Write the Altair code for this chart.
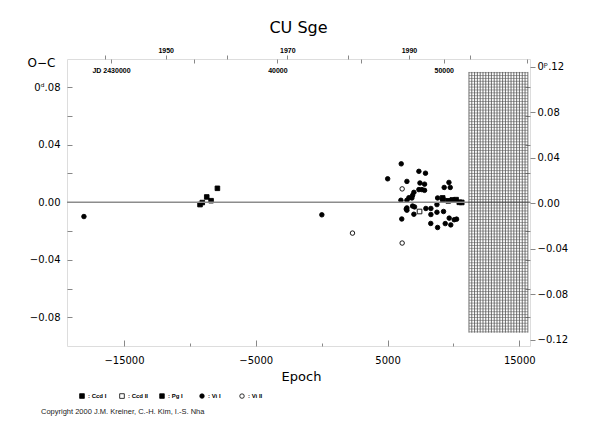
import altair as alt
import pandas as pd
import numpy as np

# ---------------- data ----------------
chart_title = "CU Sge"
copyright_text = "Copyright 2000 J.M. Kreiner, C.-H. Kim, I.-S. Nha"
types = ["Ccd I", "Ccd II", "Pg I", "Vi I", "Vi II"]

ccd1_epoch = [9180, 9210, 9610, 9920, 10200, 10450, 10630]
ccd1_oc = [0.0030, 0.0015, 0.0010, 0.0016, 0.0018, 0.0000, -0.0001]
ccd2_epoch = [7430]
ccd2_oc = [-0.0064]
pg1_epoch = [-9230, -9060, -8720, -8390, -7910]
pg1_oc = [-0.0016, -0.0002, 0.0037, 0.0011, 0.0097]
vi1_epoch = [-18040, 15, 5010, 6040, 6470, 7380, 7880, 7460, 7810, 7000, 7380,
             7610, 7810, 6900, 6620, 6850, 6015, 6470, 9300, 9760, 9660, 8800,
             6470, 6470, 6420, 6900, 7050, 7000, 7910, 8290, 8750, 8290, 8750,
             9250, 8280, 8800, 9380, 9800, 9680, 10060, 10240, 6080]
vi1_oc = [-0.0099, -0.0087, 0.0163, 0.0267, 0.0145, 0.0215, 0.0202, 0.0134,
          0.0126, 0.0069, 0.0088, 0.0088, 0.0083, 0.0048, 0.0032, 0.0030,
          0.0014, 0.0014, 0.0103, 0.0103, 0.0138, 0.0030, -0.0039, -0.0055,
          -0.0047, -0.0026, -0.0032, -0.0083, -0.0043, -0.0043, -0.0016,
          -0.0085, -0.0069, -0.0064, -0.0147, -0.0175, -0.0148, -0.0157,
          -0.0110, -0.0121, -0.0117, -0.0116]
vi2_epoch = [2340, 6110, 6110]
vi2_oc = [-0.0214, 0.0093, -0.0283]

zero_level = [0.0]

# axis tick values
epoch_labels = [-15000, -5000, 5000, 15000]
epoch_major = [-15000, -5000, 5000, 15000]
epoch_minor = [-10000, 0, 10000]
oc_labels = [-0.08, -0.04, 0.0, 0.04, 0.08]
oc_ticks = [-0.08, -0.06, -0.04, -0.02, 0.0, 0.02, 0.04, 0.06, 0.08]
phase_ticks = [-0.12, -0.08, -0.04, 0.0, 0.04, 0.08, 0.12]
year_ticks = [1940, 1950, 1960, 1970, 1980, 1990, 2000]
jd_ticks = [2430000, 2435000, 2440000, 2445000, 2450000, 2455000]

# domains
EPOCH_DOM = [-19325, 15812]
OC_DOM = [-0.0998, 0.0995]
PHASE_DOM = [-0.1253, 0.1268]
JD_DOM = [2427356, 2455182]
YEAR_DOM = [1933.77, 2009.9]

# hatched block (grid pattern)
hatch_x = list(np.linspace(11180, 15650, 22))
hatch_y = list(np.round(np.arange(-0.090, 0.0901, 0.002), 3))
hatch_top, hatch_bot = 0.0905, -0.0905
hatch_left, hatch_right = 11180, 15650

W, H = 463, 287

# ---------------- build ----------------
rows = []
for t, es, ocs in [("Ccd I", ccd1_epoch, ccd1_oc), ("Ccd II", ccd2_epoch, ccd2_oc),
                   ("Pg I", pg1_epoch, pg1_oc), ("Vi I", vi1_epoch, vi1_oc),
                   ("Vi II", vi2_epoch, vi2_oc)]:
    for e, o in zip(es, ocs):
        rows.append({"epoch": e, "oc": o, "type": t})
df = pd.DataFrame(rows)

epoch_scale = alt.Scale(domain=EPOCH_DOM, nice=False, zero=False)
oc_scale = alt.Scale(domain=OC_DOM, nice=False, zero=False)

legend = alt.Legend(orient="none", legendX=12, legendY=334, direction="horizontal",
                    columns=5, title=None, labelFontSize=6, labelFont="Liberation Sans",
                    labelFontWeight="bold", labelColor="black",
                    labelExpr="': ' + datum.label", gridAlign="all", columnPadding=9,
                    labelOffset=3, symbolStrokeWidth=0.8)

points = alt.Chart(df).mark_point(strokeWidth=0.9, opacity=1).encode(
    x=alt.X("epoch:Q", scale=epoch_scale,
            axis=alt.Axis(orient="bottom", values=epoch_labels, format="d", tickSize=0,
                          labelPadding=9, domain=False, grid=False, title="Epoch",
                          titleFont="DejaVu Sans", titleFontSize=13, titleFontWeight="normal",
                          titlePadding=5, labelFont="DejaVu Sans", labelFontSize=10,
                          titleX=234)),
    y=alt.Y("oc:Q", scale=oc_scale,
            axis=alt.Axis(orient="left", values=oc_labels, tickSize=0, labelPadding=7,
                          labelExpr="datum.value == 0.08 ? '0ᵈ.08' : format(datum.value, '.2f')",
                          domain=False, grid=False, title="O−C", titleAngle=0,
                          titleX=-26, titleY=7, titleAlign="center",
                          titleBaseline="alphabetic", titleFont="DejaVu Sans",
                          titleFontSize=12, titleFontWeight="normal",
                          labelFont="DejaVu Sans", labelFontSize=10)),
    shape=alt.Shape("type:N", scale=alt.Scale(domain=types,
                    range=["square", "square", "square", "circle", "circle"]), legend=legend),
    fill=alt.Fill("type:N", scale=alt.Scale(domain=types,
                  range=["black", "white", "black", "black", "white"]), legend=legend),
    stroke=alt.Stroke("type:N", scale=alt.Scale(domain=types,
                      range=["black", "black", "black", "black", "black"]), legend=legend),
    size=alt.Size("type:N", scale=alt.Scale(domain=types,
                  range=[22, 20, 11, 13, 11]), legend=legend),
)

zero = alt.Chart(pd.DataFrame({"z": zero_level})).mark_rule(
    color="#8c8c8c", strokeWidth=1.6).encode(
    y=alt.Y("z:Q", scale=oc_scale,
            axis=alt.Axis(orient="right", offset=-W, values=oc_ticks, labels=False,
                          tickSize=5, domain=False, grid=False, title=None))
)

hv = alt.Chart(pd.DataFrame({"hx": hatch_x, "y1": hatch_top, "y2": hatch_bot})).mark_rule(
    color="#333", strokeWidth=0.7).encode(
    x=alt.X("hx:Q", scale=epoch_scale,
            axis=alt.Axis(orient="top", offset=-H, values=epoch_major, labels=False,
                          tickSize=6, domain=False, grid=False, title=None)),
    y=alt.Y("y1:Q", scale=oc_scale,
            axis=alt.Axis(orient="left", offset=-W, values=oc_ticks, labels=False,
                          tickSize=5, domain=False, grid=False, title=None)),
    y2="y2:Q",
)

hh = alt.Chart(pd.DataFrame({"hy": hatch_y, "x1": hatch_left, "x2": hatch_right})).mark_rule(
    color="#555", strokeWidth=0.55).encode(
    y=alt.Y("hy:Q", scale=oc_scale, axis=None),
    x=alt.X("x1:Q", scale=epoch_scale,
            axis=alt.Axis(orient="top", offset=-H, values=epoch_minor, labels=False,
                          tickSize=3, domain=False, grid=False, title=None)),
    x2="x2:Q",
)

years = alt.Chart(pd.DataFrame({"yr": year_ticks})).mark_point(opacity=0).encode(
    x=alt.X("yr:Q", scale=alt.Scale(domain=YEAR_DOM, nice=False, zero=False),
            axis=alt.Axis(orient="top", values=year_ticks, format="d",
                          labelExpr="datum.value % 20 == 10 ? datum.label : ''",
                          tickSize=4, labelPadding=2, domain=False, grid=False, title=None,
                          labelFont="Liberation Sans", labelFontSize=7,
                          labelFontWeight="bold"))
)

phase = alt.Chart(pd.DataFrame({"ph": phase_ticks})).mark_point(opacity=0).encode(
    y=alt.Y("ph:Q", scale=alt.Scale(domain=PHASE_DOM, nice=False, zero=False),
            axis=alt.Axis(orient="right", values=phase_ticks, tickSize=5, labelPadding=2,
                          labelExpr="datum.value == 0.12 ? '0ᵖ.12' : format(datum.value, '.2f')",
                          domain=False, grid=False, title=None,
                          labelFont="DejaVu Sans", labelFontSize=10))
)

jd = alt.Chart(pd.DataFrame({"jd": jd_ticks})).mark_point(opacity=0).encode(
    x=alt.X("jd:Q", scale=alt.Scale(domain=JD_DOM, nice=False, zero=False),
            axis=alt.Axis(orient="bottom", offset=-H, values=jd_ticks, tickSize=4,
                          labelPadding=3, domain=False, grid=False, title=None,
                          labelExpr="datum.value == 2430000 ? 'JD 2430000' : (datum.value % 10000 == 0 ? format(datum.value - 2400000, 'd') : '')",
                          labelFont="Liberation Sans", labelFontSize=7,
                          labelFontWeight="bold"))
)

copyright = alt.Chart(pd.DataFrame({"t": [copyright_text]})).mark_text(
    align="left", baseline="alphabetic", font="Liberation Sans", fontSize=7.5,
    color="#222").encode(text="t:N", x=alt.value(-26), y=alt.value(355))

chart = alt.layer(points, zero, hv, hh, years, phase, jd, copyright).resolve_scale(
    x="independent", y="independent"
).properties(
    width=W, height=H,
    title=alt.TitleParams(chart_title, font="DejaVu Sans", fontSize=16,
                          fontWeight="normal", anchor="middle", offset=10, color="black"),
    autosize=alt.AutoSizeParams(type="none"),
    padding={"left": 59, "top": 51, "right": 52, "bottom": 71},
).configure_view(stroke="#555", strokeWidth=1.5).configure_axis(
    tickColor="#444", labelColor="black", tickWidth=1
).configure(background="white")

chart.save("out.html", embed_options={"renderer": "svg", "actions": False})
